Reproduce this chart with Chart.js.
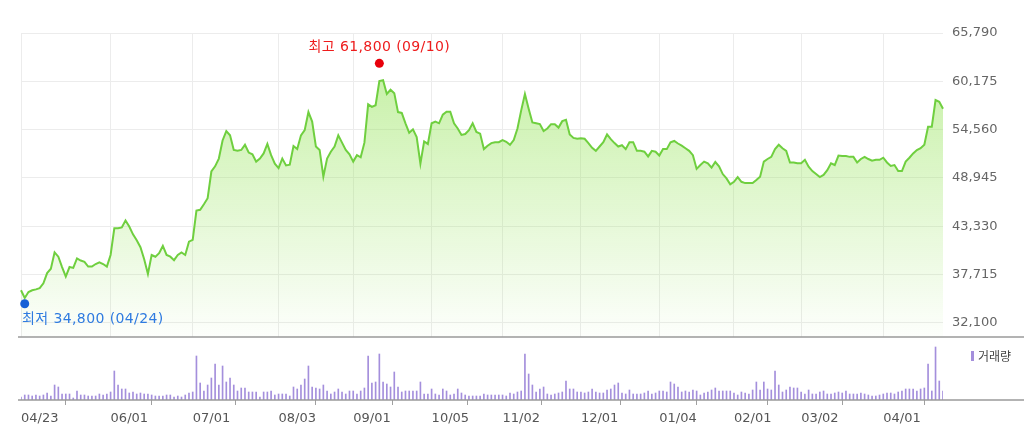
<!DOCTYPE html>
<html lang="ko">
<head>
<meta charset="UTF-8">
<title>주가 차트</title>
<style>
  html, body { margin: 0; padding: 0; background: #fff; }
  #wrap { position: relative; width: 1024px; height: 442px; overflow: hidden; }
  #priceChart { position: absolute; left: 0; top: 0; }
  #volumeChart { position: absolute; left: 0; top: 340px; }
</style>
<script src="https://cdn.jsdelivr.net/npm/chart.js"></script>
</head>
<body>
<div id="wrap">
  <canvas id="priceChart" width="1024" height="340"></canvas>
  <canvas id="volumeChart" width="1024" height="102"></canvas>
</div>
<script>
// 거래일 (2020-04-23 ~ 2021-04-23), 휴장일 제외
const firstDay = '2020-04-23';
const lastDay = '2021-04-23';
const holidays = ['2020-04-30','2020-05-01','2020-05-05','2020-08-17','2020-09-30','2020-10-01',
  '2020-10-02','2020-10-09','2020-12-25','2020-12-31','2021-01-01','2021-02-11','2021-02-12','2021-03-01'];

// 종가 (원)
const closePrice = [
  35900,35000,35700,35900,36000,36150,36700,37900,38400,40300,
  39800,38600,37500,38600,38500,39600,39350,39200,38650,38650,
  38950,39150,38950,38650,40000,43100,43100,43200,44000,43300,
  42400,41700,40900,39500,37800,40000,39800,40200,41050,40000,
  39800,39400,40000,40300,40000,41550,41750,45150,45250,45900,
  46600,49700,50300,51200,53300,54400,53900,52200,52100,52200,
  52800,51900,51700,50850,51200,51800,52900,51600,50600,50100,
  51200,50400,50500,52650,52300,53900,54500,56600,55500,52600,
  52200,49100,51200,52000,52600,53900,53050,52200,51700,50850,
  51600,51350,53050,57500,57200,57400,60200,60300,58700,59200,
  58800,56600,56500,55300,54200,54600,53700,50600,53200,52900,
  55300,55500,55300,56300,56650,56650,55300,54700,53950,54050,
  54500,55300,54300,54100,52300,52700,53000,53100,53100,53350,
  53150,52800,53350,54700,56800,58700,57000,55400,55300,55200,
  54400,54700,55200,55200,54800,55550,55700,54000,53600,53500,
  53550,53500,53000,52450,52100,52600,53100,54000,53450,53000,
  52600,52750,52300,53100,53100,52100,52100,52000,51450,52100,
  52000,51550,52300,52300,53100,53250,52950,52700,52400,52100,
  51600,50000,50450,50850,50650,50150,50800,50300,49400,48900,
  48200,48500,49050,48500,48350,48350,48350,48700,49100,50850,
  51150,51400,52300,52800,52400,52100,50750,50750,50650,50650,
  51050,50250,49750,49400,49050,49300,49850,50650,50450,51550,
  51500,51500,51400,51400,50750,51150,51400,51150,50950,51050,
  51050,51300,50750,50350,50450,49750,49750,50850,51300,51800,
  52200,52400,52800,54900,54900,58000,57800,57000
];

// 거래량 (천 주)
const volume = [
  150,250,250,200,250,200,250,350,200,750,
  650,300,300,300,100,450,250,250,200,200,
  200,300,250,300,400,1450,750,550,550,350,
  400,300,350,300,300,250,200,200,200,250,
  250,150,200,150,250,350,400,2200,850,450,
  750,1100,1800,750,1700,900,1100,750,450,600,
  600,400,400,400,150,400,400,450,250,300,
  300,300,200,650,550,750,1050,1700,650,600,
  550,750,450,300,400,550,400,300,450,450,
  300,450,600,2200,850,900,2300,900,800,650,
  1400,650,400,450,450,450,450,900,300,300,
  550,300,250,550,450,250,300,550,350,250,
  200,200,200,200,300,250,250,250,250,250,
  200,350,300,400,450,2300,1300,750,400,550,
  650,300,250,300,350,400,950,550,550,400,
  400,350,400,550,400,350,350,500,550,750,
  850,350,300,500,300,300,300,350,450,300,
  350,450,450,400,900,800,650,400,450,400,
  500,450,250,350,400,500,600,450,450,450,
  450,350,250,400,350,300,500,900,500,900,
  550,500,1450,750,400,500,650,600,600,400,
  300,500,300,300,400,450,300,300,350,400,
  350,450,300,300,300,350,300,250,200,200,
  250,300,350,350,300,400,450,550,550,550,
  450,550,600,1800,450,2650,950,450
];

const xTickLabels = ['04/23','06/01','07/01','08/03','09/01','10/05','11/02','12/01','01/04','02/01','03/02','04/01'];
const yTickValues = [32100, 37715, 43330, 48945, 54560, 60175, 65790];
const yMin = 30470, yMax = 65790;
const volMax = 2750;

const high = { value: 61800, date: '09/10' };
const low = { value: 34800, date: '04/24' };

function tradingDays() {
  const out = [];
  const d = new Date(firstDay + 'T00:00:00Z');
  const end = new Date(lastDay + 'T00:00:00Z');
  while (d <= end) {
    const iso = d.toISOString().slice(0, 10);
    const wd = d.getUTCDay();
    if (wd !== 0 && wd !== 6 && !holidays.includes(iso)) out.push(iso.slice(5, 7) + '/' + iso.slice(8, 10));
    d.setUTCDate(d.getUTCDate() + 1);
  }
  return out;
}

const dates = tradingDays();
const xTickIndex = xTickLabels.map(l => dates.indexOf(l));

Chart.defaults.font.family = '"DejaVu Sans", "Noto Sans CJK KR", sans-serif';
Chart.defaults.font.size = 13;
Chart.defaults.animation = false;

const monthTicks = scale => { scale.ticks = xTickIndex.map(v => ({ value: v })); };

// 최고/최저 표시, 하단 구분선
const priceDecor = {
  id: 'priceDecor',
  afterDatasetsDraw(chart) {
    const { ctx, chartArea, scales: { x, y } } = chart;
    ctx.save();
    ctx.strokeStyle = '#9a9a9a';
    ctx.lineWidth = 1.5;
    ctx.beginPath();
    ctx.moveTo(18, chartArea.bottom);
    ctx.lineTo(chart.width, chartArea.bottom);
    ctx.stroke();

    ctx.font = '14px "DejaVu Sans", "Noto Sans CJK KR", sans-serif';
    ctx.letterSpacing = '0.4px';
    ctx.textBaseline = 'middle';

    const hx = x.getPixelForValue(dates.indexOf(high.date));
    const hy = y.getPixelForValue(high.value) - 4;
    ctx.fillStyle = '#e8000b';
    ctx.beginPath(); ctx.arc(hx, hy, 4.5, 0, Math.PI * 2); ctx.fill();
    const ht = '최고 ' + high.value.toLocaleString('en-US') + ' (' + high.date + ')';
    ctx.fillStyle = '#ee1c1c';
    ctx.textAlign = 'center';
    ctx.fillText(ht, hx, hy - 16);

    const lx = x.getPixelForValue(dates.indexOf(low.date));
    const ly = y.getPixelForValue(low.value) + 4;
    ctx.fillStyle = '#1560d6';
    ctx.beginPath(); ctx.arc(lx, ly, 4.5, 0, Math.PI * 2); ctx.fill();
    const lt = '최저 ' + low.value.toLocaleString('en-US') + ' (' + low.date + ')';
    const lw = ctx.measureText(lt).width;
    ctx.fillStyle = '#2f7be0';
    ctx.textAlign = 'left';
    ctx.fillText(lt, Math.max(chartArea.left + 1, lx - lw / 2), ly + 16);
    ctx.restore();
  }
};

const volumeDecor = {
  id: 'volumeDecor',
  afterDraw(chart) {
    const { ctx, chartArea } = chart;
    ctx.save();
    ctx.strokeStyle = '#9a9a9a';
    ctx.lineWidth = 1.5;
    ctx.beginPath();
    ctx.moveTo(18, chartArea.bottom);
    ctx.lineTo(chart.width, chartArea.bottom);
    ctx.stroke();
    ctx.fillStyle = '#a48fdc';
    ctx.fillRect(971, 11, 3, 10);
    ctx.fillStyle = '#444';
    ctx.font = '12px "Noto Sans CJK KR", sans-serif';
    ctx.textBaseline = 'middle';
    ctx.fillText('거래량', 978, 16);
    ctx.restore();
  }
};

new Chart(document.getElementById('priceChart'), {
  type: 'line',
  data: {
    labels: dates,
    datasets: [{
      data: closePrice,
      borderColor: '#6fcf3f',
      borderWidth: 2,
      pointRadius: 0,
      tension: 0,
      fill: 'start',
      backgroundColor: ctx => {
        const area = ctx.chart.chartArea;
        if (!area) return 'rgba(150,228,90,0.4)';
        const g = ctx.chart.ctx.createLinearGradient(0, area.top, 0, area.bottom);
        g.addColorStop(0, 'rgba(150,228,90,0.6)');
        g.addColorStop(1, 'rgba(150,228,90,0.02)');
        return g;
      }
    }]
  },
  options: {
    responsive: false,
    layout: { padding: { top: 33, left: 21, right: 0, bottom: 3 } },
    plugins: { legend: { display: false }, tooltip: { enabled: false } },
    scales: {
      x: {
        type: 'category',
        afterBuildTicks: monthTicks,
        afterFit: s => { s.height = 0; s.paddingLeft = 0; s.paddingRight = 0; },
        ticks: { display: false, autoSkip: false },
        grid: { color: '#ececec', drawTicks: false },
        border: { display: false }
      },
      y: {
        position: 'right',
        min: yMin,
        max: yMax,
        afterBuildTicks: s => { s.ticks = yTickValues.map(v => ({ value: v })); },
        afterFit: s => { s.width = 81; s.paddingTop = 0; s.paddingBottom = 0; },
        ticks: { color: '#666', padding: 9, callback: v => v.toLocaleString('en-US') },
        grid: { color: '#ececec', drawTicks: false },
        border: { display: false }
      }
    }
  },
  plugins: [priceDecor]
});

new Chart(document.getElementById('volumeChart'), {
  type: 'bar',
  data: {
    labels: dates,
    datasets: [{ data: volume, backgroundColor: '#a48fdc', barThickness: 1 }]
  },
  options: {
    responsive: false,
    layout: { padding: { top: 5, left: 21, right: 0, bottom: 0 } },
    plugins: { legend: { display: false }, tooltip: { enabled: false } },
    scales: {
      x: {
        offset: false,
        afterBuildTicks: monthTicks,
        afterFit: s => { s.height = 42; s.paddingLeft = 0; s.paddingRight = 0; },
        ticks: { color: '#555', align: 'start', padding: 6, maxRotation: 0, autoSkip: false },
        grid: { drawOnChartArea: false, drawTicks: true, tickLength: 5, color: '#a0a0a0' },
        border: { display: false }
      },
      y: {
        position: 'right',
        min: 0,
        max: volMax,
        afterFit: s => { s.width = 81; s.paddingTop = 0; s.paddingBottom = 0; },
        ticks: { display: false },
        grid: { display: false },
        border: { display: false }
      }
    }
  },
  plugins: [volumeDecor]
});
</script>
</body>
</html>
